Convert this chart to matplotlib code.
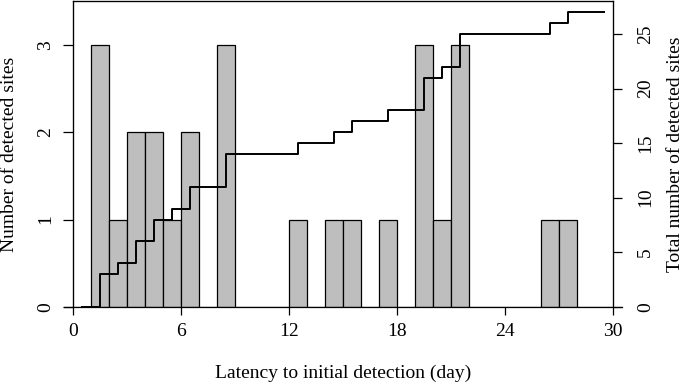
import numpy as np
import matplotlib
matplotlib.use("Agg")
import matplotlib.pyplot as plt

# detections per latency day (bin [d, d+1))
days = np.arange(0, 30)
counts = [0, 3, 1, 2, 2, 1, 2, 0, 3, 0, 0, 0, 1, 0, 1, 1, 0, 1, 0, 3,
          1, 3, 0, 0, 0, 0, 1, 1, 0, 0]
x_ticks = [0, 6, 12, 18, 24, 30]
left_ticks = [0, 1, 2, 3]
right_ticks = [0, 5, 10, 15, 20, 25]

plt.rcParams["font.family"] = ["Liberation Serif", "DejaVu Serif"]
plt.rcParams["font.size"] = 14

fig = plt.figure(figsize=(6.85, 3.83), dpi=100)
ax = fig.add_axes([0.107, 0.199, 0.7875, 0.7976])

ax.bar(days, counts, width=1.0, align="edge", color="#bebebe",
       edgecolor="black", linewidth=0.9, zorder=2)
ax.set_xlim(0, 30)
ax.set_ylim(0, 3.5)
ax.set_xticks(x_ticks)
ax.set_yticks(left_ticks)
ax.spines["bottom"].set_visible(False)
for s in ("left", "right", "top"):
    ax.spines[s].set_linewidth(0.9)
ax.axhline(0, xmin=-0.017, xmax=1.017, color="black", linewidth=0.9,
           clip_on=False, zorder=3)
ax.tick_params(axis="x", length=6, width=0.9, pad=6)
ax.tick_params(axis="y", length=7, width=0.9, pad=7, labelrotation=90)
for lab in ax.get_yticklabels():
    lab.set_va("center")
ax.set_xlabel("Latency to initial detection (day)", va="center")
ax.xaxis.set_label_coords(0.5, -0.217)
ax.set_ylabel("Number of detected sites", va="center")
ax.yaxis.set_label_coords(-0.119, 0.5)

# cumulative detections on the right axis
ax2 = ax.twinx()
cum = np.cumsum(counts)
ax2.step(days + 0.5, cum, where="post", color="black", linewidth=1.4, zorder=4)
ax2.set_ylim(0, 28)
ax2.set_yticks(right_ticks)
ax2.spines["bottom"].set_visible(False)
ax2.tick_params(axis="y", length=6.5, width=0.9, pad=11, labelrotation=90)
for lab in ax2.get_yticklabels():
    lab.set_va("center")
ax2.set_ylabel("Total number of detected sites", va="center")
ax2.yaxis.set_label_coords(1.117, 0.5)

fig.savefig("out.png", dpi=100)
